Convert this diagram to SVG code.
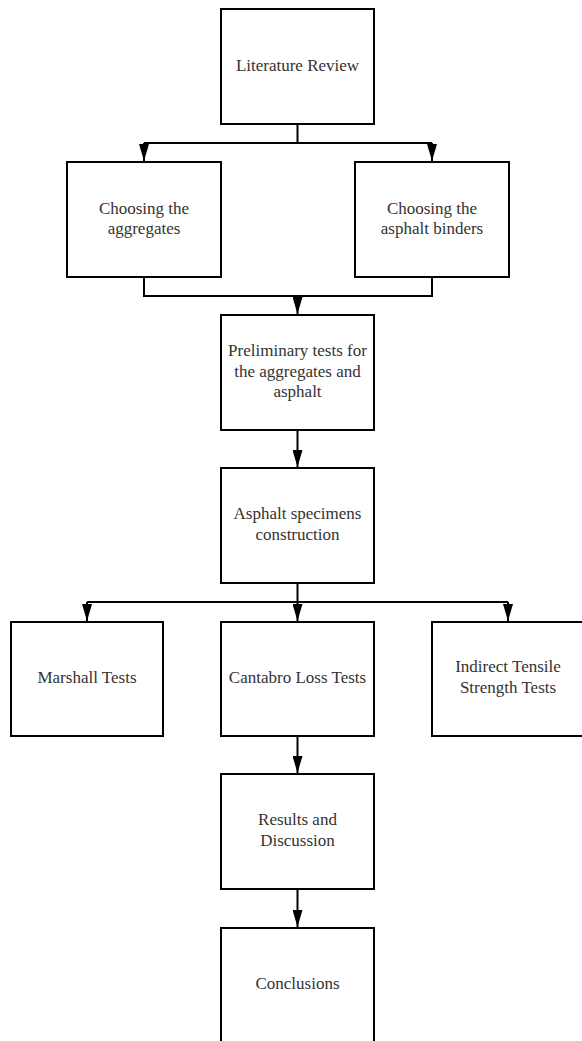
<svg xmlns="http://www.w3.org/2000/svg" width="582" height="1041" viewBox="0 0 582 1041">
<style>
.box{fill:#fff;stroke:#000;stroke-width:2}
.lbl{font-family:"Liberation Serif","Times New Roman",serif;font-size:17px;fill:#333;text-anchor:middle}
.con{fill:none;stroke:#000;stroke-width:2}
</style>
<defs>
<marker id="ah" markerUnits="userSpaceOnUse" markerWidth="17" markerHeight="10" viewBox="0 0 17 10" refX="17" refY="5" orient="auto">
<path d="M0,0 L17,5 L0,10 z" fill="#000"/>
</marker>
</defs>
<rect width="582" height="1041" fill="#fff"/>
<g id="connectors">
<path class="con" d="M297.5,124 V143 M144,143 H432"/>
<path class="con" d="M144,143 V161" marker-end="url(#ah)"/>
<path class="con" d="M432,143 V161" marker-end="url(#ah)"/>
<path class="con" d="M144,277 V296 H432 V277"/>
<path class="con" d="M297.5,296 V314" marker-end="url(#ah)"/>
<path class="con" d="M297.5,430 V467" marker-end="url(#ah)"/>
<path class="con" d="M297.5,583 V602 M87,602 H508"/>
<path class="con" d="M87,602 V621" marker-end="url(#ah)"/>
<path class="con" d="M297.5,602 V621" marker-end="url(#ah)"/>
<path class="con" d="M508,602 V621" marker-end="url(#ah)"/>
<path class="con" d="M297.5,736 V773" marker-end="url(#ah)"/>
<path class="con" d="M297.5,889 V927" marker-end="url(#ah)"/>
</g>
<g id="literature">
<rect class="box" x="221" y="9" width="153" height="115"/>
<text class="lbl" x="297.5" y="71">Literature Review</text>
</g>
<g id="aggregates">
<rect class="box" x="67" y="162" width="154" height="115"/>
<text class="lbl" x="144" y="213.5">Choosing the</text>
<text class="lbl" x="144" y="234">aggregates</text>
</g>
<g id="binders">
<rect class="box" x="355" y="162" width="154" height="115"/>
<text class="lbl" x="432" y="213.5">Choosing the</text>
<text class="lbl" x="432" y="234">asphalt binders</text>
</g>
<g id="preliminary">
<rect class="box" x="221" y="315" width="153" height="115"/>
<text class="lbl" x="297.5" y="356">Preliminary tests for</text>
<text class="lbl" x="297.5" y="376.5">the aggregates and</text>
<text class="lbl" x="297.5" y="397">asphalt</text>
</g>
<g id="specimens">
<rect class="box" x="221" y="468" width="153" height="115"/>
<text class="lbl" x="297.5" y="519">Asphalt specimens</text>
<text class="lbl" x="297.5" y="539.5">construction</text>
</g>
<g id="marshall">
<rect class="box" x="11" y="622" width="152" height="114"/>
<text class="lbl" x="87" y="683">Marshall Tests</text>
</g>
<g id="cantabro">
<rect class="box" x="221" y="622" width="153" height="114"/>
<text class="lbl" x="297.5" y="683">Cantabro Loss Tests</text>
</g>
<g id="indirect">
<rect class="box" x="432" y="622" width="153" height="114"/>
<text class="lbl" x="508" y="672">Indirect Tensile</text>
<text class="lbl" x="508" y="692.5">Strength Tests</text>
</g>
<g id="results">
<rect class="box" x="221" y="774" width="153" height="115"/>
<text class="lbl" x="297.5" y="825">Results and</text>
<text class="lbl" x="297.5" y="845.5">Discussion</text>
</g>
<g id="conclusions">
<rect class="box" x="221" y="928" width="153" height="120"/>
<text class="lbl" x="297.5" y="989">Conclusions</text>
</g>
</svg>
